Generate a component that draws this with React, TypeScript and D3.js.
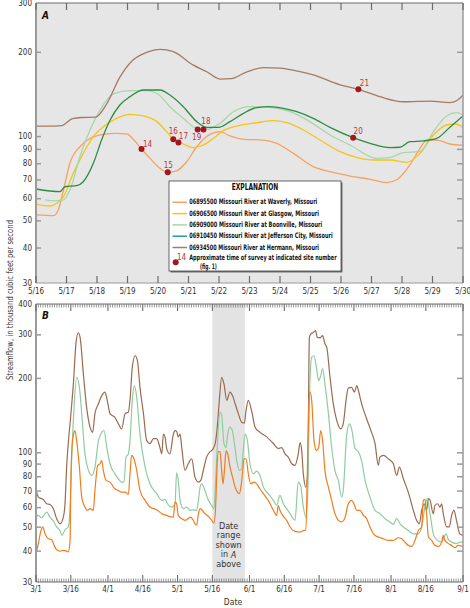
import React from "react";
import * as d3 from "d3";

// ---------- DATA ----------
// Panel A: [days after 5/16/2013 00:00, streamflow (thousand ft3/s)]
const waverlyA: [number, number][] = [[0,52.5],[0.57,52.2],[0.73,54.7],[0.9,64.4],[1.11,80.3],[1.44,92],[1.77,98.5],[2.21,101.9],[2.64,102.7],[2.97,102.2],[3.19,97.8],[3.46,90.3],[3.74,83.6],[4.07,77],[4.32,74.6],[4.61,75.5],[4.94,81.3],[5.27,92],[5.7,101.9],[6.03,104.2],[6.36,100.5],[6.8,97.8],[7.45,97.2],[7.89,94.6],[8.44,87.1],[9.09,78.1],[9.64,74.9],[10.3,72.3],[10.95,70.4],[11.5,68.5],[11.83,70.1],[12.26,79.2],[12.59,90.8],[12.81,97.2],[13.14,97.2],[13.57,94.1],[14,93.1]];
const glasgowA: [number, number][] = [[0,57.4],[0.46,56.5],[0.68,57.8],[0.9,61],[1.22,73.9],[1.55,87.1],[1.88,100],[2.21,108.5],[2.64,116.2],[3.08,120.1],[3.52,118.5],[3.96,113.1],[4.28,104.2],[4.5,97.8],[4.83,94.1],[5.16,91.3],[5.49,93.3],[5.81,98.5],[6.14,105],[6.58,109.1],[7.23,112.1],[7.78,114],[8.22,112.1],[8.77,105.6],[9.31,97.2],[9.97,88.4],[10.51,84.3],[11.06,82.5],[11.61,82.5],[12.15,80.9],[12.59,87.1],[13.03,101.3],[13.46,110],[13.74,110.9],[14,107.9]];
const boonvilleA: [number, number][] = [[0.3,59.4],[0.57,58.9],[0.9,59.4],[1.11,64.4],[1.44,84.7],[1.77,105.6],[2.1,124.4],[2.54,142],[3.08,145.9],[3.63,145.9],[3.96,142.8],[4.39,127.9],[4.83,116.2],[5.27,107],[5.6,106.2],[6.03,111.5],[6.47,122.7],[7.02,127.9],[7.67,127.2],[8.33,122.7],[8.98,113.1],[9.64,101.3],[10.3,93.3],[11.17,83.6],[11.61,84.3],[12.04,87.6],[12.59,88.4],[13.03,104.2],[13.46,118.5],[13.79,121.8],[14,119.3]];
const jeffersonA: [number, number][] = [[0,65],[0.79,63.6],[0.95,66.2],[1.33,66.8],[1.55,69],[1.88,80.3],[2.15,97.2],[2.43,114.6],[2.75,129.7],[3.08,138.9],[3.52,146.7],[4.07,146.7],[4.39,140.8],[4.83,127.9],[5.27,113.1],[5.6,107.9],[5.98,107.9],[6.36,113.1],[6.8,121.1],[7.24,126.9],[7.67,127.9],[8.11,126.2],[8.55,122.7],[9.09,116.2],[9.64,107.9],[10.4,99.1],[10.95,94.6],[11.61,91.3],[11.93,91.6],[12.26,95.9],[12.7,96.5],[13.14,98.5],[13.57,107.9],[14,118.5]];
const hermannA: [number, number][] = [[0,109],[0.35,109],[0.84,109.5],[1.2,116],[1.5,117],[1.95,117.4],[2.32,131],[2.75,163],[3.19,188],[3.63,200],[4.07,205],[4.5,201],[5.16,180],[5.6,170.5],[6.03,160.5],[6.4,161],[6.9,170],[7.45,176.3],[8.0,175.7],[8.5,172],[9.09,166],[9.97,153],[10.57,147.5],[11.28,138.8],[12.04,133.2],[12.5,133.5],[12.92,133.8],[13.57,132.2],[13.8,134.5],[14,140.8]];

// Survey times (site number, days after 5/16, flow)
const surveySites = ["14", "15", "16", "17", "18", "19", "20", "21"];
const surveyDay = [3.46, 4.32, 4.5, 4.67, 5.49, 5.3, 10.4, 10.57];
const surveyFlow = [90.3, 74.6, 97.8, 95.3, 106, 106, 99.1, 147.6];

// Panel B: [days after 3/1/2013, streamflow]
const waverlyB: [number, number][] = [[0,39],[1,42.9],[2,47.8],[2.9,50.1],[3.9,47],[5.3,44.9],[6.8,44.5],[7.8,42.2],[8.9,40.5],[10.3,40],[11.8,40.3],[13.2,40],[13.9,39.7],[14.7,44.2],[14.9,64.2],[15.5,105],[16.2,119],[16.8,123],[17.5,112],[18.7,87.5],[19.7,66.2],[21.1,60.3],[22.1,58.5],[23.3,59.4],[24.7,58.5],[25.4,70.4],[26.6,88.9],[27.6,90.3],[28.3,93],[29,84.9],[30.2,77.3],[31.9,76.1],[34,71.5],[35.5,70.4],[36.9,69.3],[38.4,69.3],[39.8,67.8],[40.5,82.2],[41.2,97.6],[42.2,94.6],[43.4,84.9],[44.8,70.4],[47,64.2],[49.1,60.3],[52,58.8],[54.2,56.7],[56.3,55.8],[58.5,54.9],[59.2,54.9],[59.9,63.2],[60.6,62.2],[61.3,55.8],[62.8,54.1],[64.2,53.3],[65.6,54.1],[66.4,54.9],[67.8,53.3],[68.5,51.6],[69.2,50.9],[70,56.7],[70.7,59.4],[71.4,58.8],[72.8,56.7],[74.3,55.3],[75.7,53.3],[76.7,52],[77.4,60.3],[78,87.5],[78.6,101],[79.3,101],[80,84.9],[80.6,74.9],[81.3,87.5],[81.9,102],[82.6,99],[83.6,87.5],[84.7,79.7],[85.8,72.6],[86.8,69.3],[87.6,68.3],[88.3,72.6],[89.1,84.9],[89.6,94.6],[90.5,94.6],[91.5,82.2],[92.5,74.9],[93.7,76.1],[95.1,74.9],[96.5,71.5],[98,68.3],[100.1,64.2],[102.3,58.5],[103.7,55.8],[104.4,61.2],[105.1,58.5],[106.3,55.8],[108,53.3],[109.5,50.1],[111.6,48.1],[113.8,47.8],[115.5,48.5],[116.3,48.5],[116.9,82.2],[117.5,148],[118.1,176],[118.8,163],[119.8,112],[120.9,102],[121.8,105],[122.7,123],[123.5,112],[124.5,84.9],[126,72.6],[127.4,64.2],[128.8,56.7],[130.3,53.3],[131.7,52.5],[133.2,54.9],[134.6,62.2],[136,64.2],[137,62.2],[138.2,58.5],[139.6,58.5],[141.1,55.8],[142.5,54.1],[143.9,50.1],[145.4,47],[147.5,45.6],[149.7,44.9],[151.8,44.2],[154,44.2],[156.1,45.3],[157.6,44.9],[159,43.5],[160.4,42.2],[161.9,41.8],[163.3,44.2],[164.8,48.5],[166.2,50.1],[166.9,64.2],[167.6,64.8],[168.3,56.7],[169.1,45.6],[170.5,44.2],[171.9,42.2],[173.4,41.8],[174.8,43.5],[175.5,46.3],[176.2,44.2],[177.7,42.9],[179.1,42.2],[180.5,41.3],[181.9,42.2],[184,41.8]];
const boonvilleB: [number, number][] = [[0,54.9],[1,55.8],[2.4,54.6],[3.9,56.7],[4.6,57.6],[6,54.9],[7.5,52.9],[8.9,50.1],[10.3,48.5],[11.2,46.3],[12.5,48.8],[13.9,50.1],[14.7,60.3],[15.4,96],[16.4,153],[17.5,202],[18.7,184],[19.7,144],[21.1,99],[22.6,84.9],[24,81],[25.4,87.5],[26.9,112],[28.3,121],[29.3,123],[30.5,105],[31.9,90.3],[34,82.2],[35.5,78.5],[36.9,76.1],[37.9,76.1],[38.8,96],[39.8,99],[40.5,112],[41.5,163],[42.4,187],[43.4,168],[44.8,119],[47,87.5],[49.1,74.9],[52,68.3],[54.2,64.2],[55.6,64.8],[56.6,62.2],[58.5,60.3],[59.9,62.2],[60.6,83],[61.3,77.3],[62.1,64.2],[63.5,59.4],[64.9,60.3],[66.4,58.5],[67.8,58.8],[69.2,58.5],[70,64.2],[70.7,72.6],[71.4,74.9],[72.8,70.4],[74.3,64.2],[75.7,61.2],[76.7,59.4],[77.3,72.6],[78.1,105],[79.3,146],[80,142],[81,109],[81.9,105],[82.6,119],[83.6,127],[84.6,123],[85.5,109],[86.5,93],[87.6,84.9],[88.6,86],[89.3,102],[90.1,119],[91.1,112],[92.2,90.3],[93.7,82.2],[95.1,84.3],[96.5,81],[98,72.6],[100.1,68.3],[102.3,64.2],[103.7,61.2],[105.1,67.2],[106.6,62.2],[108,59.4],[109.5,56.7],[111.6,53.3],[113,76.1],[114,73.8],[115.2,60.3],[116.3,54.9],[117.1,68.3],[117.8,163],[118.8,244],[119.8,247],[120.9,219],[121.8,196],[122.7,205],[123.5,219],[124.5,190],[126,144],[127.4,105],[128.8,84.9],[130.3,77.3],[131.7,66.2],[132.4,70.4],[133.9,119],[135,131],[136,125],[137.5,104],[138.9,101],[140.3,93],[141.8,77.3],[143.9,66.2],[146.1,58.5],[148.2,56.7],[150.4,54.1],[152.5,52.5],[154,51.3],[155.4,54.1],[156.9,51.6],[158.3,50.1],[160.4,48.5],[162.6,47],[164.8,47],[166.2,50.1],[167.6,60.3],[168.6,65.2],[169.8,56.7],[171.2,47],[172.7,44.5],[174.8,43.5],[176.7,47],[177.7,44.5],[179.1,43.5],[181.2,42.9],[182.6,43.5],[184,43.5]];
const hermannB: [number, number][] = [[0,70.9],[1,66.2],[3.2,64.6],[4.6,62.2],[6,61.8],[7.5,59.4],[8.9,54.1],[10.3,51.6],[11.8,54.9],[12.5,62.2],[13.2,87.5],[13.9,109],[14.9,139],[16.1,190],[17.2,276],[18.2,306],[19,293],[20.4,209],[21.8,153],[23.3,127],[24.4,121],[25.4,144],[26.9,158],[28.3,170],[29.7,176],[30.7,163],[31.9,144],[34,139],[35.5,131],[36.9,125],[38.4,144],[39.8,146],[40.5,163],[41.5,222],[42.7,247],[43.7,236],[44.8,184],[46.3,144],[47.7,112],[49.1,109],[50.6,114],[52,114],[53.4,105],[54.2,99],[54.9,119],[55.6,116],[56.3,104],[57.7,99],[59.2,119],[59.9,123],[60.6,122],[61.3,116],[62.1,119],[62.8,105],[64.2,84.9],[65.6,90.3],[67.1,94.6],[68.5,79.7],[70,76.1],[71,77.3],[72.1,84.9],[73.5,96],[75,101],[76.1,103],[77.3,110],[78.1,127],[79,163],[80,202],[81,190],[82.2,163],[83.6,176],[84.7,170],[85.8,158],[87.2,144],[88.6,133],[89.8,132],[90.5,148],[91.5,163],[92.9,148],[94.4,127],[96.5,121],[99.4,116],[102.3,109],[104.4,104],[105.9,105],[107.3,99],[108.7,96],[110.2,90.3],[111.6,88.9],[113,99],[113.8,110],[114.5,102],[115.2,82.2],[116.3,72.6],[117.1,82.2],[117.8,293],[118.5,303],[119.5,307],[120.5,312],[121.2,293],[122.4,292],[123.5,298],[124.5,276],[125.3,267],[126.7,202],[128.1,158],[129.6,135],[131.3,125],[132.4,131],[133.6,163],[134.6,183],[136,184],[137.2,176],[138.2,187],[138.9,179],[140.3,158],[142.5,137],[144.6,121],[146.1,109],[147.5,88.9],[148.2,96],[149.7,97.6],[151.8,94.6],[154,90.3],[155.4,81],[156.6,87.5],[158.3,78.5],[160.4,69.3],[162.6,58.5],[164,53.3],[165.2,51.6],[166.2,58.5],[167.3,62.2],[168.3,58.5],[169.1,65.2],[169.8,64.2],[171.2,56.7],[171.9,61.2],[173,62.2],[174.1,60.3],[174.8,62.2],[175.5,56.7],[177,50.1],[178.1,50.1],[179.1,55.8],[180.1,58.5],[181.2,53.3],[182.6,47],[184,46.3]];

const stationNames = [
  "06895500 Missouri River at Waverly, Missouri",
  "06906500 Missouri River at Glasgow, Missouri",
  "06909000 Missouri River at Boonville, Missouri",
  "06910450 Missouri River at Jefferson City, Missouri",
  "06934500 Missouri River at Hermann, Missouri",
];
const yTicksA = [30, 40, 50, 60, 70, 80, 90, 100, 200, 300];
const yTicksB = [30, 40, 50, 60, 70, 80, 90, 100, 200, 300, 400];

// ---------- STYLE ----------
const FONT = "'Liberation Sans Narrow','DejaVu Sans Condensed','Roboto Condensed',sans-serif";
const colA = ["#f5a263", "#f5c518", "#a9d6a9", "#2e8b44", "#a77a62"];
const legendCol = ["#f5a263", "#f5c518", "#a9d6a9", "#1aa396", "#a77a62"];
const colB = { waverly: "#f07d1c", boonville: "#8fcc9e", hermann: "#9b6a4f" };
const legendTextLen = [128, 129.7, 133, 143.4, 129.7];
// label center offsets for survey numbers
const labelDx = [6, 0.5, 0, 5, 2.5, -1, 5, 6];
const labelDy = [-4.5, -6.5, -7.5, -5.5, -8, 8, -6, -5.5];

const DAY = 86400000;
const A0 = Date.UTC(2013, 4, 16);
const A1 = Date.UTC(2013, 4, 30);
const B0 = Date.UTC(2013, 2, 1);
const B1 = Date.UTC(2013, 8, 1);

const A = { l: 36, r: 463, t: 3, b: 283 };
const B = { l: 36, r: 463, t: 304, b: 582 };

export default function App() {
  const xA = d3.scaleUtc().domain([new Date(A0), new Date(A1)]).range([A.l, A.r]);
  const yA = d3.scaleLog().domain([30, 300]).range([A.b, A.t]);
  const xB = d3.scaleUtc().domain([new Date(B0), new Date(B1)]).range([B.l, B.r]);
  const yB = d3.scaleLog().domain([30, 400]).range([B.b, B.t]);

  const lineA = d3.line<[number, number]>()
    .x((d) => xA(new Date(A0 + d[0] * DAY)))
    .y((d) => yA(d[1]))
    .curve(d3.curveMonotoneX);
  const lineB = d3.line<[number, number]>()
    .x((d) => xB(new Date(B0 + d[0] * DAY)))
    .y((d) => yB(d[1]))
    .curve(d3.curveMonotoneX);

  const daysA = d3.utcDay.range(new Date(A0), new Date(A1 + 1));
  const daysB = d3.utcDay.range(new Date(B0), new Date(B1 + 1));
  const fmt = (d: Date) => `${d.getUTCMonth() + 1}/${d.getUTCDate()}`;
  const seriesA = [waverlyA, glasgowA, boonvilleA, jeffersonA, hermannA];

  const shadeX0 = xB(new Date(A0));
  const shadeX1 = xB(new Date(A1));
  const shadeCx = (shadeX0 + shadeX1) / 2;

  const tickCol = "#6b6b6b";
  const axisCol = "#9a9a9a";

  return (
    <svg width={470} height={608} style={{ position: "absolute", left: 0, top: 0 }} fontFamily={FONT}>
      <defs>
        <clipPath id="clipA"><rect x={A.l} y={A.t} width={A.r - A.l} height={A.b - A.t} /></clipPath>
        <clipPath id="clipB"><rect x={B.l} y={B.t} width={B.r - B.l} height={B.b - B.t} /></clipPath>
      </defs>
      <rect width={470} height={608} fill="#fff" />

      {/* ---------- Panel A ---------- */}
      <rect x={A.l} y={A.t} width={A.r - A.l} height={A.b - A.t} fill="#e6e6e6" />
      <g clipPath="url(#clipA)" fill="none">
        {seriesA.map((s, i) => (
          <path key={i} d={lineA(s) || ""} stroke={colA[i]} strokeWidth={1.3} />
        ))}
      </g>
      {/* frame A */}
      <line x1={A.l} x2={A.r} y1={A.t} y2={A.t} stroke={tickCol} strokeWidth={1} />
      <line x1={A.l} x2={A.r} y1={A.b} y2={A.b} stroke={axisCol} strokeWidth={1} />
      <line x1={A.l} x2={A.l} y1={A.t} y2={A.b} stroke={axisCol} strokeWidth={2} />
      <line x1={A.r} x2={A.r} y1={A.t} y2={A.b} stroke={axisCol} strokeWidth={1.5} />
      {daysA.map((d, i) => (
        <g key={i}>
          <line x1={xA(d)} x2={xA(d)} y1={A.t} y2={A.t + 7} stroke={tickCol} strokeWidth={1.2} />
          <line x1={xA(d)} x2={xA(d)} y1={A.b} y2={A.b - 7} stroke={tickCol} strokeWidth={1.2} />
          <text x={xA(d)} y={A.b + 8} fontSize={8} textAnchor="middle" dominantBaseline="middle" fill="#333">{fmt(d)}</text>
        </g>
      ))}
      {yTicksA.map((v) => (
        <g key={v}>
          {v > 30 && v < 300 && (
            <>
              <line x1={A.l} x2={A.l + 5} y1={yA(v)} y2={yA(v)} stroke={axisCol} strokeWidth={1.5} />
              <line x1={A.r} x2={A.r - 6} y1={yA(v)} y2={yA(v)} stroke={axisCol} strokeWidth={1.5} />
            </>
          )}
          <text x={A.l - 4} y={yA(v)} fontSize={8} textAnchor="end" dominantBaseline="middle" fill="#333">{v}</text>
        </g>
      ))}
      <text x={45.5} y={16} fontSize={10} fontWeight="bold" fontStyle="italic" textAnchor="middle" dominantBaseline="middle" fill="#111">A</text>

      {/* survey points */}
      {surveySites.map((s, i) => {
        const cx = xA(new Date(A0 + surveyDay[i] * DAY));
        const cy = yA(surveyFlow[i]);
        return (
          <g key={s}>
            <circle cx={cx} cy={cy} r={3} fill="#a3161d" />
            <text x={cx + labelDx[i]} y={cy + labelDy[i]} fontSize={8} textAnchor="middle" dominantBaseline="middle" fill="#c0343a">{s}</text>
          </g>
        );
      })}

      {/* legend */}
      <rect x={170.5} y={182.5} width={172} height={90} fill="#707070" />
      <rect x={169} y={181} width={172} height={90} fill="#fff" stroke="#444" strokeWidth={0.8} />
      <text x={255} y={187} fontSize={8} fontWeight="bold" textAnchor="middle" dominantBaseline="middle" fill="#111" textLength={46.7} lengthAdjust="spacingAndGlyphs">EXPLANATION</text>
      {stationNames.map((n, i) => {
        const y = 202.3 + i * 11.3;
        return (
          <g key={n}>
            <line x1={172.5} x2={187} y1={y} y2={y} stroke={legendCol[i]} strokeWidth={1.5} />
            <text x={189.3} y={y} fontSize={7.5} fontWeight="bold" dominantBaseline="middle" fill="#111" textLength={legendTextLen[i]} lengthAdjust="spacingAndGlyphs">{n}</text>
          </g>
        );
      })}
      <circle cx={175.7} cy={262.3} r={3} fill="#a3161d" />
      <text x={181.5} y={257.3} fontSize={8} textAnchor="middle" dominantBaseline="middle" fill="#c0343a">14</text>
      <text x={189.3} y={258.3} fontSize={7.5} fontWeight="bold" dominantBaseline="middle" fill="#111" textLength={147.3} lengthAdjust="spacingAndGlyphs">Approximate time of survey at indicated site number</text>
      <text x={200} y={266.6} fontSize={7.5} fontWeight="bold" dominantBaseline="middle" fill="#111" textLength={16.7} lengthAdjust="spacingAndGlyphs">(fig. 1)</text>

      {/* ---------- Panel B ---------- */}
      <rect x={shadeX0} y={B.t} width={shadeX1 - shadeX0} height={B.b - B.t} fill="#e3e3e3" />
      <g clipPath="url(#clipB)" fill="none">
        <path d={lineB(hermannB) || ""} stroke={colB.hermann} strokeWidth={1.2} />
        <path d={lineB(boonvilleB) || ""} stroke={colB.boonville} strokeWidth={1.2} />
        <path d={lineB(waverlyB) || ""} stroke={colB.waverly} strokeWidth={1.2} />
      </g>
      <line x1={B.l} x2={B.r} y1={B.t} y2={B.t} stroke={tickCol} strokeWidth={1} />
      <line x1={B.l} x2={B.r} y1={B.b} y2={B.b} stroke={tickCol} strokeWidth={1} />
      <line x1={B.l} x2={B.l} y1={B.t} y2={B.b} stroke={axisCol} strokeWidth={2} />
      <line x1={B.r} x2={B.r} y1={B.t} y2={B.b} stroke={axisCol} strokeWidth={1.5} />
      {daysB.map((d, i) => {
        const major = d.getUTCDate() === 1 || d.getUTCDate() === 16;
        const len = major ? 7 : 3.5;
        return (
          <g key={i}>
            <line x1={xB(d)} x2={xB(d)} y1={B.t} y2={B.t + len} stroke={tickCol} strokeWidth={major ? 1.1 : 0.7} />
            <line x1={xB(d)} x2={xB(d)} y1={B.b} y2={B.b - len} stroke={tickCol} strokeWidth={major ? 1.1 : 0.7} />
            {major && (
              <text x={xB(d)} y={B.b + 7.5} fontSize={8} textAnchor="middle" dominantBaseline="middle" fill="#333">{fmt(d)}</text>
            )}
          </g>
        );
      })}
      {yTicksB.map((v) => (
        <g key={v}>
          {v > 30 && v < 400 && (
            <>
              <line x1={B.l} x2={B.l + 5} y1={yB(v)} y2={yB(v)} stroke={axisCol} strokeWidth={1.5} />
              <line x1={B.r} x2={B.r - 6} y1={yB(v)} y2={yB(v)} stroke={axisCol} strokeWidth={1.5} />
            </>
          )}
          <text x={B.l - 4} y={yB(v)} fontSize={8} textAnchor="end" dominantBaseline="middle" fill="#333">{v}</text>
        </g>
      ))}
      <text x={45.5} y={316} fontSize={10} fontWeight="bold" fontStyle="italic" textAnchor="middle" dominantBaseline="middle" fill="#111">B</text>

      <g fontSize={9} fill="#333" textAnchor="middle">
        <text x={shadeCx} y={526} dominantBaseline="middle">Date</text>
        <text x={shadeCx} y={535.6} dominantBaseline="middle">range</text>
        <text x={shadeCx} y={545.2} dominantBaseline="middle">shown</text>
        <text x={shadeCx} y={554.8} dominantBaseline="middle">in <tspan fontStyle="italic">A</tspan></text>
        <text x={shadeCx} y={564.4} dominantBaseline="middle">above</text>
      </g>

      {/* axis titles */}
      <text transform="translate(10.5,300) rotate(-90)" fontSize={9.5} textAnchor="middle" dominantBaseline="middle" fill="#333" textLength={160} lengthAdjust="spacingAndGlyphs">Streamflow, in thousand cubic feet per second</text>
      <text x={233} y={602} fontSize={8.5} textAnchor="middle" dominantBaseline="middle" fill="#333">Date</text>
    </svg>
  );
}
